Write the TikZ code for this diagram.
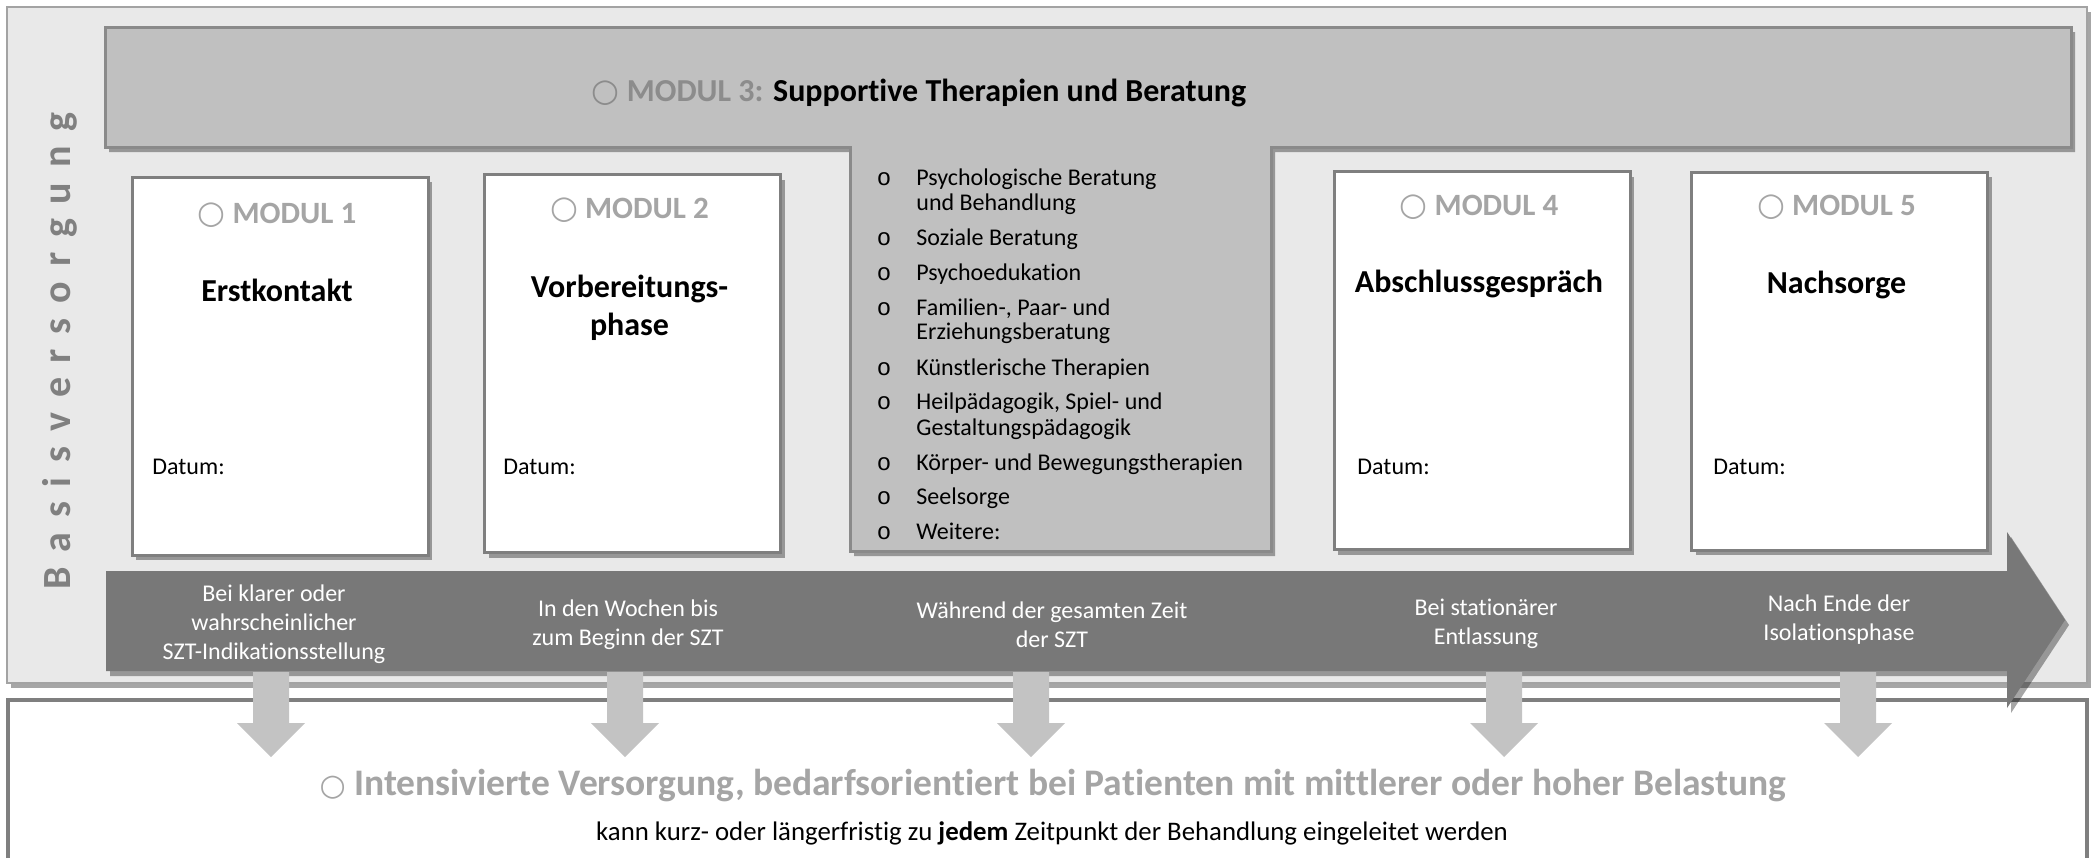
\documentclass[tikz,border=0pt]{standalone}
\usepackage{fontspec}
\setmainfont{Carlito}[Ligatures=NoCommon]
\newfontfamily\symfont{DejaVu Sans}
\newfontfamily\bulfont{Liberation Mono}
\usetikzlibrary{shadows}
\definecolor{outerfill}{HTML}{E9E9E9}
\definecolor{outerline}{HTML}{A3A3A3}
\definecolor{tfill}{HTML}{C0C0C0}
\definecolor{tline}{HTML}{8A8A8A}
\definecolor{boxline}{HTML}{7F7F7F}
\definecolor{barfill}{HTML}{787878}
\definecolor{downfill}{HTML}{C3C3C3}
\definecolor{headgray}{HTML}{A5A5A5}
\definecolor{mthreegray}{HTML}{8C8C8C}
\definecolor{basisgray}{HTML}{808080}
\newcommand\ocir[1]{{\symfont\fontsize{#1}{#1}\selectfont ○}}
\begin{document}
\begin{tikzpicture}[x=0.5pt,y=-0.5pt,
  shad/.style={drop shadow={shadow xshift=2pt,shadow yshift=-2.5pt,opacity=0.35,fill=black}},
  modbox/.style={draw=boxline,line width=1.5pt,fill=white,inner sep=0pt,minimum width=148pt,minimum height=189pt,shad},
  modhead/.style={font=\fontsize{15.5}{18}\selectfont\bfseries,text=headgray,anchor=base,inner sep=0pt},
  modtitle/.style={font=\fontsize{16}{20}\selectfont\bfseries,anchor=base,inner sep=0pt},
  small/.style={font=\fontsize{12}{14.5}\selectfont,inner sep=0pt},
  datum/.style={small,anchor=base west},
  item/.style={small,anchor=base west},
  bul/.style={font=\bulfont\fontsize{12}{14}\selectfont,anchor=base,inner sep=0pt},
  bartext/.style={small,text=white,align=center},
  downarrow/.style={fill=downfill}
]
\useasboundingbox (0,0) rectangle (2096,858);
\fill[white] (0,0) rectangle (2096,858);

% outer Basisversorgung box
\draw[fill=outerfill,draw=outerline,line width=1pt,shad] (7,7) rectangle (2087,683);

% bottom box
\fill[white] (8,700) rectangle (2087,858);
\draw[boxline,line width=2pt] (8,858) -- (8,700) -- (2087,700) -- (2087,858);

% vertical label
\node[rotate=90,anchor=base west,inner sep=0pt,font=\fontsize{20}{24}\selectfont\bfseries,text=basisgray] (basis) at (70,590)
  {\spaceskip=7.4pt B a s i s v e r s o r g u n g};

% Module 3 T shape
\draw[fill=tfill,draw=tline,line width=1.5pt,shad] (105,27) -- (2071,27) -- (2071,147) -- (1271,147) -- (1271,551) -- (850,551) -- (850,147) -- (105,147) -- cycle;
\node[anchor=base,inner sep=0pt,font=\fontsize{16}{20}\selectfont\bfseries] (mthree) at (919,101)
  {\textcolor{mthreegray}{\ocir{16}\ MODUL 3:} Supportive Therapien und Beratung};

% list
\node[bul] (b1) at (884,185) {o};
\node[item] (l1a) at (916,185) {Psychologische Beratung};
\node[item] (l1b) at (916,210) {und Behandlung};
\node[bul] (b2) at (884,245) {o};
\node[item] (l2) at (916,245) {Soziale Beratung};
\node[bul] (b3) at (884,280) {o};
\node[item] (l3) at (916,280) {Psychoedukation};
\node[bul] (b4) at (884,315) {o};
\node[item] (l4a) at (916,315) {Familien-, Paar- und};
\node[item] (l4b) at (916,339) {Erziehungsberatung};
\node[bul] (b5) at (884,375) {o};
\node[item] (l5) at (916,375) {Künstlerische Therapien};
\node[bul] (b6) at (884,409) {o};
\node[item] (l6a) at (916,409) {Heilpädagogik, Spiel- und};
\node[item] (l6b) at (916,435) {Gestaltungspädagogik};
\node[bul] (b7) at (884,470) {o};
\node[item] (l7) at (916,470) {Körper- und Bewegungstherapien};
\node[bul] (b8) at (884,504) {o};
\node[item] (l8) at (916,504) {Seelsorge};
\node[bul] (b9) at (884,539) {o};
\node[item] (l9) at (916,539) {Weitere:};

% module boxes
\node[modbox] (m1) at (280,366) {};
\node[modbox] (m2) at (632.5,363.5) {};
\node[modbox] (m4) at (1482,360.5) {};
\node[modbox] (m5) at (1839.5,361) {};

\node[modhead] (h1) at (277,223) {\ocir{16}\ MODUL 1};
\node[modhead] (h2) at (629.5,218) {\ocir{16}\ MODUL 2};
\node[modhead] (h4) at (1479,215) {\ocir{16}\ MODUL 4};
\node[modhead] (h5) at (1836.5,215) {\ocir{16}\ MODUL 5};

\node[modtitle] (t1) at (277,301) {Erstkontakt};
\node[modtitle] (t2a) at (629.5,297) {Vorbereitungs-};
\node[modtitle] (t2b) at (629.5,335) {phase};
\node[modtitle] (t4) at (1479,292.5) {Abschlussgespräch};
\node[modtitle] (t5) at (1836.5,293) {Nachsorge};

\node[datum] (d1) at (152,474) {Datum:};
\node[datum] (d2) at (503,474) {Datum:};
\node[datum] (d4) at (1357,474) {Datum:};
\node[datum] (d5) at (1713,474) {Datum:};

% big time arrow
\fill[barfill,shad] (106,571) -- (2007,571) -- (2007,532) -- (2065,620) -- (2007,708) -- (2007,671) -- (106,671) -- cycle;
\node[bartext] (c1) at (274,624) {Bei klarer oder\\wahrscheinlicher\\SZT-Indikationsstellung};
\node[bartext] (c2) at (628,625) {In den Wochen bis\\zum Beginn der SZT};
\node[bartext] (c3) at (1052,625) {Während der gesamten Zeit\\der SZT};
\node[bartext] (c4) at (1486,624) {Bei stationärer\\Entlassung};
\node[bartext] (c5) at (1839,620) {Nach Ende der\\Isolationsphase};

% down arrows
\foreach \c in {271,625,1031,1504,1858}{
  \fill[downarrow] (\c-18,672) -- (\c+18,672) -- (\c+18,723) -- (\c+34,723) -- (\c,757) -- (\c-34,723) -- (\c-18,723) -- cycle;
}

% bottom texts
\node[anchor=base,inner sep=0pt,font=\fontsize{18.75}{22}\selectfont\bfseries,text=headgray] (intens) at (1053,795)
  {\ocir{15}\ Intensivierte Versorgung, bedarfsorientiert bei Patienten mit mittlerer oder hoher Belastung};
\node[anchor=base,inner sep=0pt,font=\fontsize{13.4}{16}\selectfont] (kann) at (1052,840)
  {kann kurz- oder längerfristig zu \textbf{jedem} Zeitpunkt der Behandlung eingeleitet werden};
\end{tikzpicture}
\end{document}
